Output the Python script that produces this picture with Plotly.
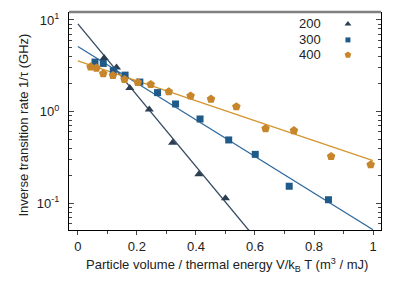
import plotly.graph_objects as go

# Data
x200 = [0.089, 0.131, 0.176, 0.242, 0.321, 0.410, 0.500]
y200 = [3.84, 3.03, 1.81, 1.05, 0.457, 0.207, 0.113]

x300 = [0.058, 0.086, 0.120, 0.160, 0.210, 0.270, 0.331, 0.414, 0.511, 0.601, 0.716, 0.849]
y300 = [3.47, 3.35, 2.79, 2.50, 2.10, 1.61, 1.21, 0.83, 0.49, 0.341, 0.153, 0.109]

x400 = [0.043, 0.063, 0.086, 0.119, 0.158, 0.203, 0.247, 0.308, 0.382, 0.451, 0.537, 0.636, 0.732, 0.858, 0.992]
y400 = [3.08, 2.99, 2.59, 2.48, 2.24, 2.08, 1.98, 1.65, 1.48, 1.37, 1.13, 0.653, 0.621, 0.324, 0.263]

# Fitted lines (endpoints)
fit_x = [0.0, 1.0]
fit200 = [9.06, 9.06 * 10 ** (-3.89)]
fit300 = [5.13, 5.13 * 10 ** (-2.0)]
fit400 = [3.58, 3.58 * 10 ** (-1.09)]

labels = ["200", "300", "400"]
c200, c300, c400 = "#2b3e52", "#1f5a88", "#c8862c"
lc200, lc300, lc400 = "#34495e", "#2f6a9e", "#d4952f"

fig = go.Figure()
fig.add_trace(go.Scatter(x=fit_x, y=fit200, mode="lines", line=dict(color=lc200, width=1.3), showlegend=False))
fig.add_trace(go.Scatter(x=fit_x, y=fit300, mode="lines", line=dict(color=lc300, width=1.3), showlegend=False))
fig.add_trace(go.Scatter(x=fit_x, y=fit400, mode="lines", line=dict(color=lc400, width=1.3), showlegend=False))
fig.add_trace(go.Scatter(x=x200, y=y200, mode="markers", marker=dict(symbol="triangle-up", size=8, color=c200), showlegend=False))
fig.add_trace(go.Scatter(x=x300, y=y300, mode="markers", marker=dict(symbol="square", size=7, color=c300), showlegend=False))
fig.add_trace(go.Scatter(x=x400, y=y400, mode="markers", marker=dict(symbol="pentagon", size=9, color=c400), showlegend=False))

# manual legend: text on left, marker on right
leg_y = [0.945, 0.872, 0.803]
syms = ["triangle-up", "square", "pentagon"]
cols = [c200, c300, c400]
sizes = [6, 5, 7]
for lab, yy, s, c, sz in zip(labels, leg_y, syms, cols, sizes):
    fig.add_trace(go.Scatter(x=[0.894], y=[yy], xaxis="x2", yaxis="y2", mode="markers",
                             marker=dict(symbol=s, size=sz, color=c), showlegend=False))
    fig.add_annotation(x=0.813, y=yy, xref="paper", yref="paper", text=lab, showarrow=False,
                       xanchor="right", yanchor="middle", font=dict(size=13, color="#222"))

minor_vals = []
for e in [-2, -1, 0, 1]:
    for d in range(2, 10):
        minor_vals.append(d * 10 ** e)

# axis titles as annotations for exact placement
fig.add_annotation(x=0.505, y=-0.16, xref="paper", yref="paper", yanchor="middle", showarrow=False,
                   text="Particle volume / thermal energy V/k<sub>B</sub> T (m<sup>3</sup> / mJ)",
                   font=dict(size=13, color="#222"))
fig.add_annotation(x=-0.147, y=0.48, xref="paper", yref="paper", xanchor="center", yanchor="middle",
                   showarrow=False, text="Inverse transition rate 1/τ (GHz)", textangle=-90,
                   font=dict(size=13, color="#222"))

# page body has an 8px margin: size figure so the plot area lands at 69..381 x 12..230
fig.update_layout(
    width=407, height=282,
    margin=dict(l=61, r=34, t=4, b=60, autoexpand=False),
    plot_bgcolor="white", paper_bgcolor="white",
    font=dict(family="Liberation Sans, Arial, sans-serif", size=13, color="#222"),
    xaxis=dict(range=[-0.03, 1.027], tickvals=[0, 0.2, 0.4, 0.6, 0.8, 1],
               ticktext=["0", "0.2", "0.4", "0.6", "0.8", "1"], automargin=False,
               ticks="outside", ticklen=4, tickcolor="#444", showline=True, linecolor="black", linewidth=1,
               showgrid=False, zeroline=False,
               minor=dict(tickvals=[0.1, 0.3, 0.5, 0.7, 0.9], ticks="outside", ticklen=3, tickcolor="#444")),
    yaxis=dict(type="log", range=[-1.293, 1.087], tickvals=[0.1, 1, 10],
               ticktext=["10<sup>-1</sup>", "10<sup>0</sup>", "10<sup>1</sup>"], automargin=False,
               ticks="inside", ticklen=5, tickcolor="#444", showline=True, linecolor="black", linewidth=1,
               mirror="ticks", showgrid=False, zeroline=False, ticklabelstandoff=6,
               minor=dict(tickvals=minor_vals, ticks="inside", ticklen=3, tickcolor="#444")),
    xaxis2=dict(range=[0, 1], overlaying="x", visible=False),
    yaxis2=dict(range=[0, 1], overlaying="y", visible=False),
    shapes=[dict(type="line", xref="paper", yref="paper", x0=0, x1=1, y0=1, y1=1,
                 line=dict(color="#808080", width=2.5))],
)

fig.write_html("out.html")
